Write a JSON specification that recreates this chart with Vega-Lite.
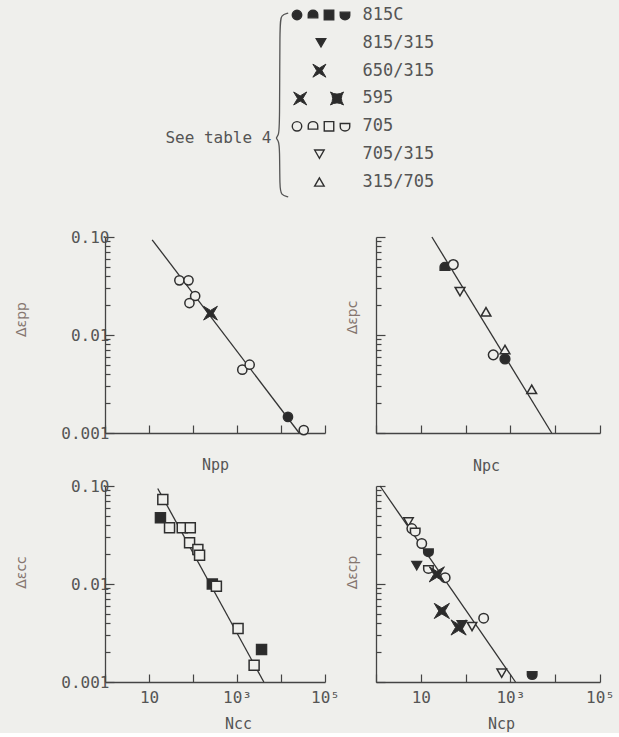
{
  "$schema": "https://vega.github.io/schema/vega-lite/v6.json",
  "background": "#efefec",
  "padding": {"left": 14, "top": 5, "right": 5, "bottom": 2},
  "config": {
    "view": {"stroke": null},
    "font": "DejaVu Sans Mono",
    "axis": {
      "domainColor": "#444444", "domainWidth": 1.3, "tickColor": "#444444", "tickWidth": 1.2,
      "labelColor": "#555555", "labelFont": "DejaVu Sans Mono", "labelFontSize": 16,
      "titleColor": "#555555", "titleFont": "DejaVu Sans Mono", "titleFontSize": 15, "titleFontWeight": "normal",
      "grid": false, "labelOverlap": false, "labelFlush": false, "labelBound": false
    }
  },
  "datasets": {
    "pts": [
      {"panel": "pp", "series": "705", "marker": "circle", "N": 49, "eps": 0.0361},
      {"panel": "pp", "series": "705", "marker": "circle", "N": 79, "eps": 0.0361},
      {"panel": "pp", "series": "705", "marker": "circle", "N": 112, "eps": 0.025},
      {"panel": "pp", "series": "705", "marker": "circle", "N": 83, "eps": 0.0212},
      {"panel": "pp", "series": "595", "marker": "xstar", "N": 250, "eps": 0.0167},
      {"panel": "pp", "series": "705", "marker": "circle", "N": 1320, "eps": 0.00443},
      {"panel": "pp", "series": "705", "marker": "circle", "N": 1940, "eps": 0.00498},
      {"panel": "pp", "series": "815C", "marker": "circle", "N": 14400, "eps": 0.00146},
      {"panel": "pp", "series": "705", "marker": "circle", "N": 32900, "eps": 0.00107},
      {"panel": "pc", "series": "815C", "marker": "dome", "N": 34.7, "eps": 0.0491},
      {"panel": "pc", "series": "705", "marker": "circle", "N": 53, "eps": 0.0523},
      {"panel": "pc", "series": "705/315", "marker": "tridown", "N": 75, "eps": 0.0277},
      {"panel": "pc", "series": "315/705", "marker": "triup", "N": 285, "eps": 0.01725},
      {"panel": "pc", "series": "705", "marker": "circle", "N": 415, "eps": 0.00627},
      {"panel": "pc", "series": "315/705", "marker": "triup", "N": 757, "eps": 0.00711},
      {"panel": "pc", "series": "815C", "marker": "circle", "N": 757, "eps": 0.0057},
      {"panel": "pc", "series": "315/705", "marker": "triup", "N": 2990, "eps": 0.00279},
      {"panel": "cc", "series": "705", "marker": "square", "N": 20.6, "eps": 0.073},
      {"panel": "cc", "series": "815C", "marker": "square", "N": 18.2, "eps": 0.0474},
      {"panel": "cc", "series": "705", "marker": "square", "N": 29.3, "eps": 0.0375},
      {"panel": "cc", "series": "705", "marker": "square", "N": 57, "eps": 0.0375},
      {"panel": "cc", "series": "705", "marker": "square", "N": 86.8, "eps": 0.0375},
      {"panel": "cc", "series": "705", "marker": "square", "N": 83.6, "eps": 0.0263},
      {"panel": "cc", "series": "705", "marker": "square", "N": 129, "eps": 0.0225},
      {"panel": "cc", "series": "705", "marker": "square", "N": 141, "eps": 0.0197},
      {"panel": "cc", "series": "815C", "marker": "square", "N": 275, "eps": 0.01},
      {"panel": "cc", "series": "705", "marker": "square", "N": 340, "eps": 0.0095},
      {"panel": "cc", "series": "705", "marker": "square", "N": 1057, "eps": 0.00351},
      {"panel": "cc", "series": "815C", "marker": "square", "N": 3614, "eps": 0.00214},
      {"panel": "cc", "series": "705", "marker": "square", "N": 2449, "eps": 0.00148},
      {"panel": "cp", "series": "705/315", "marker": "tridown", "N": 5.3, "eps": 0.043},
      {"panel": "cp", "series": "705", "marker": "circle", "N": 6.3, "eps": 0.0368},
      {"panel": "cp", "series": "705", "marker": "shield", "N": 7.5, "eps": 0.0346},
      {"panel": "cp", "series": "705", "marker": "circle", "N": 10.5, "eps": 0.0259},
      {"panel": "cp", "series": "815C", "marker": "shield", "N": 14.8, "eps": 0.0213},
      {"panel": "cp", "series": "815/315", "marker": "tridown", "N": 8.1, "eps": 0.0154},
      {"panel": "cp", "series": "705", "marker": "shield", "N": 14.8, "eps": 0.0144},
      {"panel": "cp", "series": "705", "marker": "circle", "N": 35, "eps": 0.0116},
      {"panel": "cp", "series": "650/315", "marker": "xstar", "N": 22.8, "eps": 0.01254},
      {"panel": "cp", "series": "595", "marker": "xstar", "N": 29.5, "eps": 0.00531},
      {"panel": "cp", "series": "705/315", "marker": "tridown", "N": 139, "eps": 0.00368},
      {"panel": "cp", "series": "705", "marker": "circle", "N": 253, "eps": 0.00448},
      {"panel": "cp", "series": "815/315", "marker": "tridown", "N": 82.8, "eps": 0.00383},
      {"panel": "cp", "series": "650/315", "marker": "xstar", "N": 69.7, "eps": 0.0036},
      {"panel": "cp", "series": "705/315", "marker": "tridown", "N": 640, "eps": 0.00123},
      {"panel": "cp", "series": "815C", "marker": "shield", "N": 3060, "eps": 0.00119}
    ],
    "lines": [
      {"panel": "pp", "N": 11.8, "eps": 0.0937},
      {"panel": "pp", "N": 25900, "eps": 0.001},
      {"panel": "pc", "N": 17.7, "eps": 0.1},
      {"panel": "pc", "N": 8350, "eps": 0.001},
      {"panel": "cc", "N": 15.8, "eps": 0.0944},
      {"panel": "cc", "N": 4070, "eps": 0.001},
      {"panel": "cp", "N": 1.23, "eps": 0.1},
      {"panel": "cp", "N": 1300, "eps": 0.001}
    ],
    "leg": [
      {"lx": 1, "ly": 1, "series": "815C", "marker": "circle"},
      {"lx": 2, "ly": 1, "series": "815C", "marker": "dome"},
      {"lx": 3, "ly": 1, "series": "815C", "marker": "square"},
      {"lx": 4, "ly": 1, "series": "815C", "marker": "shield"},
      {"lx": 2.5, "ly": 2, "series": "815/315", "marker": "tridown"},
      {"lx": 2.4, "ly": 3, "series": "650/315", "marker": "xstar"},
      {"lx": 1.2, "ly": 4, "series": "595", "marker": "xstar"},
      {"lx": 3.5, "ly": 4, "series": "595", "marker": "cstar"},
      {"lx": 1, "ly": 5, "series": "705", "marker": "circle"},
      {"lx": 2, "ly": 5, "series": "705", "marker": "dome"},
      {"lx": 3, "ly": 5, "series": "705", "marker": "square"},
      {"lx": 4, "ly": 5, "series": "705", "marker": "shield"},
      {"lx": 2.4, "ly": 6, "series": "705/315", "marker": "tridown"},
      {"lx": 2.4, "ly": 7, "series": "315/705", "marker": "triup"}
    ],
    "legtxt": [
      {"lx": 5.1, "ly": 1, "label": "815C"},
      {"lx": 5.1, "ly": 2, "label": "815/315"},
      {"lx": 5.1, "ly": 3, "label": "650/315"},
      {"lx": 5.1, "ly": 4, "label": "595"},
      {"lx": 5.1, "ly": 5, "label": "705"},
      {"lx": 5.1, "ly": 6, "label": "705/315"},
      {"lx": 5.1, "ly": 7, "label": "315/705"}
    ],
    "note": [{"lx": -0.6, "ly": 5.42, "label": "See table 4"}],
    "brace": [
      {"ord": 1, "lx": 0.45, "ly": 0.93},
      {"ord": 2, "lx": 0.0, "ly": 1.0},
      {"ord": 3, "lx": -0.08, "ly": 1.3},
      {"ord": 4, "lx": -0.08, "ly": 5.05},
      {"ord": 5, "lx": -0.15, "ly": 5.33},
      {"ord": 6, "lx": -0.35, "ly": 5.42},
      {"ord": 7, "lx": -0.15, "ly": 5.51},
      {"ord": 8, "lx": -0.08, "ly": 5.8},
      {"ord": 9, "lx": -0.08, "ly": 7.2},
      {"ord": 10, "lx": 0.0, "ly": 7.47},
      {"ord": 11, "lx": 0.45, "ly": 7.54}
    ]
  },
  "bounds": "flush",
  "columns": 2,
  "spacing": {"row": 53, "column": 51},
  "concat": [
    {
      "width": 220, "height": 179,
      "layer": [
        {
          "data": {"name": "brace"},
          "mark": {"type": "line", "interpolate": "basis", "stroke": "#555555", "strokeWidth": 1.3},
          "encoding": {
            "x": {"field": "lx", "type": "quantitative", "scale": {"domain": [-11, 2.75], "nice": false, "zero": false}, "axis": null},
            "y": {"field": "ly", "type": "quantitative", "scale": {"domain": [0.64, 7.073], "nice": false, "zero": false, "reverse": true}, "axis": null},
            "order": {"field": "ord"}
          }
        },
        {
          "data": {"name": "note"},
          "mark": {"type": "text", "align": "right", "baseline": "middle", "font": "DejaVu Sans Mono", "fontSize": 16, "color": "#555555"},
          "encoding": {
            "x": {"field": "lx", "type": "quantitative"},
            "y": {"field": "ly", "type": "quantitative"},
            "text": {"field": "label"}
          }
        },
        {
          "data": {"name": "leg"},
          "transform": [{"filter": "datum.marker != 'xstar' && datum.marker != 'cstar'"}],
          "mark": {"type": "point", "filled": true, "stroke": "#2f2f2f", "strokeWidth": 1.4, "size": 90, "opacity": 1},
          "encoding": {
            "x": {"field": "lx", "type": "quantitative"},
            "y": {"field": "ly", "type": "quantitative"},
            "shape": {"field": "marker", "type": "nominal", "legend": null, "scale": {"domain": ["circle", "dome", "square", "shield", "tridown", "triup", "xstar", "cstar"], "range": ["circle", "M-1,0.6L-1,-0.1A1,0.9 0 0 1 1,-0.1L1,0.6Z", "square", "M-1,-0.6L1,-0.6L1,0.1A1,0.9 0 0 1 -1,0.1Z", "triangle-down", "triangle-up", "M-1,-1L-0.4,0L-1,1L0,0.4L1,1L0.4,0L1,-1L0,-0.4Z", "M-1,-1Q0,-0.35 1,-1Q0.35,0 1,1Q0,0.35 -1,1Q-0.35,0 -1,-1Z"]}},
            "fill": {"field": "series", "type": "nominal", "legend": null, "scale": {"domain": ["815C", "815/315", "650/315", "595", "705", "705/315", "315/705"], "range": ["#2b2b2b", "#2b2b2b", "#2b2b2b", "#2b2b2b", "#efefec", "#efefec", "#efefec"]}}
          }
        },
        {
          "data": {"name": "leg"},
          "transform": [{"filter": "datum.marker == 'xstar' || datum.marker == 'cstar'"}],
          "mark": {"type": "point", "filled": true, "stroke": "#2f2f2f", "strokeWidth": 1, "size": 170, "opacity": 1},
          "encoding": {
            "x": {"field": "lx", "type": "quantitative"},
            "y": {"field": "ly", "type": "quantitative"},
            "shape": {"field": "marker", "type": "nominal", "legend": null},
            "fill": {"field": "series", "type": "nominal", "legend": null}
          }
        },
        {
          "data": {"name": "legtxt"},
          "mark": {"type": "text", "align": "left", "baseline": "middle", "font": "DejaVu Sans Mono", "fontSize": 17, "color": "#555555"},
          "encoding": {
            "x": {"field": "lx", "type": "quantitative"},
            "y": {"field": "ly", "type": "quantitative"},
            "text": {"field": "label"}
          }
        }
      ]
    },
    {
      "width": 224, "height": 179,
      "data": {"values": []},
      "mark": {"type": "text"},
      "encoding": {}
    },
    {
      "width": 220, "height": 196,
      "layer": [
        {
          "data": {"name": "lines"},
          "transform": [{"filter": "datum.panel == 'pp'"}],
          "mark": {"type": "line", "stroke": "#333333", "strokeWidth": 1.3},
          "encoding": {
            "x": {"field": "N", "type": "quantitative", "scale": {"type": "log", "domain": [1, 100000], "nice": false},
              "axis": {"values": [1, 10, 100, 1000, 10000, 100000], "tickSize": -8, "labels": false, "title": "Npp", "titleX": 110, "titleY": 31, "titleBaseline": "middle"}},
            "y": {"field": "eps", "type": "quantitative", "scale": {"type": "log", "domain": [0.001, 0.1], "nice": false},
              "axis": {"values": [0.001, 0.002, 0.003, 0.004, 0.005, 0.006, 0.007, 0.008, 0.009, 0.01, 0.02, 0.03, 0.04, 0.05, 0.06, 0.07, 0.08, 0.09, 0.1],
                "tickSize": {"condition": {"test": "datum.value == 0.1 || datum.value == 0.01 || datum.value == 0.001", "value": -9}, "value": -5},
                "labelExpr": "datum.value == 0.1 ? '0.10' : datum.value == 0.01 ? '0.01' : datum.value == 0.001 ? '0.001' : ''",
                "labelPadding": 5, "title": "Δεpp", "titleX": -84, "titleY": 82, "titleBaseline": "middle", "titleFont": "DejaVu Sans", "titleFontSize": 14, "titleColor": "#85766f"}}
          }
        },
        {
          "data": {"name": "pts"},
          "transform": [{"filter": "datum.panel == 'pp' && datum.marker != 'xstar' && datum.marker != 'cstar'"}],
          "mark": {"type": "point", "filled": true, "stroke": "#2f2f2f", "strokeWidth": 1.5, "size": 85, "opacity": 1},
          "encoding": {
            "x": {"field": "N", "type": "quantitative", "scale": {"type": "log", "domain": [1, 100000], "nice": false}},
            "y": {"field": "eps", "type": "quantitative", "scale": {"type": "log", "domain": [0.001, 0.1], "nice": false}},
            "shape": {"field": "marker", "type": "nominal", "legend": null},
            "fill": {"field": "series", "type": "nominal", "legend": null}
          }
        },
        {
          "data": {"name": "pts"},
          "transform": [{"filter": "datum.panel == 'pp' && (datum.marker == 'xstar' || datum.marker == 'cstar')"}],
          "mark": {"type": "point", "filled": true, "stroke": "#2f2f2f", "strokeWidth": 1, "size": 190, "opacity": 1},
          "encoding": {
            "x": {"field": "N", "type": "quantitative", "scale": {"type": "log", "domain": [1, 100000], "nice": false}},
            "y": {"field": "eps", "type": "quantitative", "scale": {"type": "log", "domain": [0.001, 0.1], "nice": false}},
            "shape": {"field": "marker", "type": "nominal", "legend": null},
            "fill": {"field": "series", "type": "nominal", "legend": null}
          }
        }
      ]
    },
    {
      "width": 224, "height": 196,
      "layer": [
        {
          "data": {"name": "lines"},
          "transform": [{"filter": "datum.panel == 'pc'"}],
          "mark": {"type": "line", "stroke": "#333333", "strokeWidth": 1.3},
          "encoding": {
            "x": {"field": "N", "type": "quantitative", "scale": {"type": "log", "domain": [1, 100000], "nice": false},
              "axis": {"values": [1, 10, 100, 1000, 10000, 100000], "tickSize": -8, "labels": false, "title": "Npc", "titleX": 110, "titleY": 32, "titleBaseline": "middle"}},
            "y": {"field": "eps", "type": "quantitative", "scale": {"type": "log", "domain": [0.001, 0.1], "nice": false},
              "axis": {"values": [0.001, 0.002, 0.003, 0.004, 0.005, 0.006, 0.007, 0.008, 0.009, 0.01, 0.02, 0.03, 0.04, 0.05, 0.06, 0.07, 0.08, 0.09, 0.1],
                "tickSize": {"condition": {"test": "datum.value == 0.1 || datum.value == 0.01 || datum.value == 0.001", "value": -9}, "value": -5},
                "labels": false, "title": "Δεpc", "titleX": -24, "titleY": 80, "titleBaseline": "middle", "titleFont": "DejaVu Sans", "titleFontSize": 14, "titleColor": "#85766f"}}
          }
        },
        {
          "data": {"name": "pts"},
          "transform": [{"filter": "datum.panel == 'pc' && datum.marker != 'xstar' && datum.marker != 'cstar'"}],
          "mark": {"type": "point", "filled": true, "stroke": "#2f2f2f", "strokeWidth": 1.5, "size": 95, "opacity": 1},
          "encoding": {
            "x": {"field": "N", "type": "quantitative", "scale": {"type": "log", "domain": [1, 100000], "nice": false}},
            "y": {"field": "eps", "type": "quantitative", "scale": {"type": "log", "domain": [0.001, 0.1], "nice": false}},
            "shape": {"field": "marker", "type": "nominal", "legend": null},
            "fill": {"field": "series", "type": "nominal", "legend": null}
          }
        }
      ]
    },
    {
      "width": 220, "height": 196,
      "layer": [
        {
          "data": {"name": "lines"},
          "transform": [{"filter": "datum.panel == 'cc'"}],
          "mark": {"type": "line", "stroke": "#333333", "strokeWidth": 1.3},
          "encoding": {
            "x": {"field": "N", "type": "quantitative", "scale": {"type": "log", "domain": [1, 100000], "nice": false},
              "axis": {"values": [1, 10, 100, 1000, 10000, 100000], "tickSize": -8,
                "labelExpr": "datum.value == 10 ? '10' : datum.value == 1000 ? '10³' : datum.value == 100000 ? '10⁵' : ''",
                "labelPadding": 15, "title": "Ncc", "titleX": 133, "titleY": 41, "titleBaseline": "middle"}},
            "y": {"field": "eps", "type": "quantitative", "scale": {"type": "log", "domain": [0.001, 0.1], "nice": false},
              "axis": {"values": [0.001, 0.002, 0.003, 0.004, 0.005, 0.006, 0.007, 0.008, 0.009, 0.01, 0.02, 0.03, 0.04, 0.05, 0.06, 0.07, 0.08, 0.09, 0.1],
                "tickSize": {"condition": {"test": "datum.value == 0.1 || datum.value == 0.01 || datum.value == 0.001", "value": -9}, "value": -5},
                "labelExpr": "datum.value == 0.1 ? '0.10' : datum.value == 0.01 ? '0.01' : datum.value == 0.001 ? '0.001' : ''",
                "labelPadding": 5, "title": "Δεcc", "titleX": -84, "titleY": 86, "titleBaseline": "middle", "titleFont": "DejaVu Sans", "titleFontSize": 14, "titleColor": "#85766f"}}
          }
        },
        {
          "data": {"name": "pts"},
          "transform": [{"filter": "datum.panel == 'cc'"}],
          "mark": {"type": "point", "filled": true, "stroke": "#2f2f2f", "strokeWidth": 1.5, "size": 100, "opacity": 1},
          "encoding": {
            "x": {"field": "N", "type": "quantitative", "scale": {"type": "log", "domain": [1, 100000], "nice": false}},
            "y": {"field": "eps", "type": "quantitative", "scale": {"type": "log", "domain": [0.001, 0.1], "nice": false}},
            "shape": {"field": "marker", "type": "nominal", "legend": null},
            "fill": {"field": "series", "type": "nominal", "legend": null}
          }
        }
      ]
    },
    {
      "width": 224, "height": 196,
      "layer": [
        {
          "data": {"name": "lines"},
          "transform": [{"filter": "datum.panel == 'cp'"}],
          "mark": {"type": "line", "stroke": "#333333", "strokeWidth": 1.3},
          "encoding": {
            "x": {"field": "N", "type": "quantitative", "scale": {"type": "log", "domain": [1, 100000], "nice": false},
              "axis": {"values": [1, 10, 100, 1000, 10000, 100000], "tickSize": -8,
                "labelExpr": "datum.value == 10 ? '10' : datum.value == 1000 ? '10³' : datum.value == 100000 ? '10⁵' : ''",
                "labelPadding": 15, "title": "Ncp", "titleX": 125, "titleY": 41, "titleBaseline": "middle"}},
            "y": {"field": "eps", "type": "quantitative", "scale": {"type": "log", "domain": [0.001, 0.1], "nice": false},
              "axis": {"values": [0.001, 0.002, 0.003, 0.004, 0.005, 0.006, 0.007, 0.008, 0.009, 0.01, 0.02, 0.03, 0.04, 0.05, 0.06, 0.07, 0.08, 0.09, 0.1],
                "tickSize": {"condition": {"test": "datum.value == 0.1 || datum.value == 0.01 || datum.value == 0.001", "value": -9}, "value": -5},
                "labels": false, "title": "Δεcp", "titleX": -24, "titleY": 86, "titleBaseline": "middle", "titleFont": "DejaVu Sans", "titleFontSize": 14, "titleColor": "#85766f"}}
          }
        },
        {
          "data": {"name": "pts"},
          "transform": [{"filter": "datum.panel == 'cp' && datum.marker != 'xstar' && datum.marker != 'cstar'"}],
          "mark": {"type": "point", "filled": true, "stroke": "#2f2f2f", "strokeWidth": 1.5, "size": 90, "opacity": 1},
          "encoding": {
            "x": {"field": "N", "type": "quantitative", "scale": {"type": "log", "domain": [1, 100000], "nice": false}},
            "y": {"field": "eps", "type": "quantitative", "scale": {"type": "log", "domain": [0.001, 0.1], "nice": false}},
            "shape": {"field": "marker", "type": "nominal", "legend": null},
            "fill": {"field": "series", "type": "nominal", "legend": null}
          }
        },
        {
          "data": {"name": "pts"},
          "transform": [{"filter": "datum.panel == 'cp' && (datum.marker == 'xstar' || datum.marker == 'cstar')"}],
          "mark": {"type": "point", "filled": true, "stroke": "#2f2f2f", "strokeWidth": 1, "size": 230, "opacity": 1},
          "encoding": {
            "x": {"field": "N", "type": "quantitative", "scale": {"type": "log", "domain": [1, 100000], "nice": false}},
            "y": {"field": "eps", "type": "quantitative", "scale": {"type": "log", "domain": [0.001, 0.1], "nice": false}},
            "shape": {"field": "marker", "type": "nominal", "legend": null},
            "fill": {"field": "series", "type": "nominal", "legend": null}
          }
        }
      ]
    }
  ]
}
